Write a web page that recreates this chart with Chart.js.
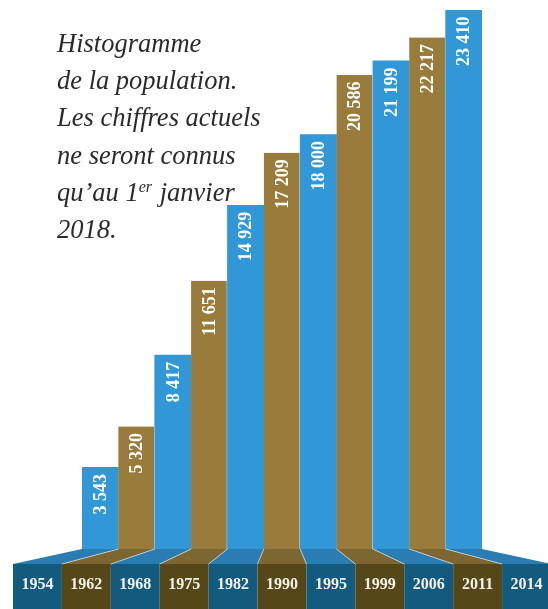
<!DOCTYPE html>
<html lang="fr">
<head>
<meta charset="utf-8">
<title>Histogramme de la population</title>
<script src="https://cdn.jsdelivr.net/npm/chart.js@4/dist/chart.umd.min.js"></script>
<style>
  html, body { margin: 0; padding: 0; background: #fff; }
  canvas { display: block; }
</style>
</head>
<body>
<canvas id="popChart" width="548" height="609"></canvas>
<script>
  // années des recensements
  const years = ['1954', '1962', '1968', '1975', '1982', '1990', '1995', '1999', '2006', '2011', '2014'];
  // population à chaque recensement
  const population = [3543, 5320, 8417, 11651, 14929, 17209, 18000, 20586, 21199, 22217, 23410];
  // texte du titre, ligne par ligne
  const titleLines = ['Histogramme', 'de la population.', 'Les chiffres actuels', 'ne seront connus', 'qu\u2019au 1|er| janvier', '2018.'];

  const barColors = ['#3197d6', '#997b3b'];
  const floorColors = ['#2a7db3', '#7c6631'];
  const boxColors = ['#135a7f', '#564719'];

  function fmt(n) {
    return String(n).replace(/\B(?=(\d{3})+(?!\d))/g, ' ');
  }

  // sol en perspective, étiquettes des années, valeurs verticales, titre
  const decor = {
    id: 'decor',
    afterDatasetsDraw(chart) {
      const ctx = chart.ctx;
      const area = chart.chartArea;
      const bars = chart.getDatasetMeta(0).data;
      const floorTop = area.bottom;
      const floorBottom = area.bottom + 15;
      const boxBottom = chart.height;
      const vx = (area.left + area.right) / 2;
      const spread = 1.345;
      const proj = x => vx + (x - vx) * spread;

      ctx.save();
      bars.forEach((bar, i) => {
        const l = bar.x - bar.width / 2;
        const r = bar.x + bar.width / 2;
        const pl = proj(l), pr = proj(r);
        // sol
        ctx.fillStyle = floorColors[i % 2];
        ctx.beginPath();
        ctx.moveTo(l, floorTop);
        ctx.lineTo(r, floorTop);
        ctx.lineTo(pr, floorBottom);
        ctx.lineTo(pl, floorBottom);
        ctx.closePath();
        ctx.fill();
        // boîte de l'année
        ctx.fillStyle = boxColors[i % 2];
        ctx.fillRect(pl, floorBottom, pr - pl, boxBottom - floorBottom);
      });
      // lignes claires entre les pans du sol
      ctx.strokeStyle = 'rgba(255,255,255,0.55)';
      ctx.lineWidth = 1;
      bars.forEach((bar, i) => {
        if (i === 0) return;
        const l = bar.x - bar.width / 2;
        ctx.beginPath();
        ctx.moveTo(l, floorTop);
        ctx.lineTo(proj(l), floorBottom);
        ctx.stroke();
      });

      // années
      ctx.fillStyle = '#f4f1e8';
      ctx.font = 'bold 16px "Liberation Serif"';
      ctx.textAlign = 'center';
      ctx.textBaseline = 'alphabetic';
      bars.forEach((bar, i) => {
        ctx.fillText(years[i], proj(bar.x), floorBottom + 25);
      });

      // valeurs verticales
      ctx.fillStyle = '#ffffff';
      ctx.font = 'bold 18px "Liberation Serif"';
      ctx.textAlign = 'right';
      ctx.textBaseline = 'middle';
      bars.forEach((bar, i) => {
        ctx.save();
        ctx.translate(bar.x + 1, bar.y);
        ctx.rotate(-Math.PI / 2);
        ctx.fillText(fmt(population[i]), -6.5, 0);
        ctx.restore();
      });
      ctx.restore();
    },
    afterDraw(chart) {
      const ctx = chart.ctx;
      ctx.save();
      ctx.fillStyle = '#2a2a2a';
      ctx.textAlign = 'left';
      ctx.textBaseline = 'alphabetic';
      const big = 'italic 26.5px "Liberation Serif"';
      const small = 'italic 16px "Liberation Serif"';
      titleLines.forEach((line, k) => {
        const y = 52 + k * 37.2;
        let x = 57;
        line.split('|').forEach((part, j) => {
          const sup = j % 2 === 1;
          ctx.font = sup ? small : big;
          ctx.fillText(part, x, sup ? y - 9 : y);
          x += ctx.measureText(part).width + (sup ? 1 : 0);
        });
      });
      ctx.restore();
    }
  };

  const ctx1 = document.getElementById('popChart').getContext('2d');

  const popChart = new Chart(ctx1, {
    type: 'bar',
    data: {
      labels: years,
      datasets: [{
        label: 'Population',
        data: population,
        backgroundColor: c => barColors[c.dataIndex % 2],
        borderColor: '#ffffff',
        borderWidth: c => ({ top: 0, bottom: 0, left: 0, right: c.dataIndex % 2 ? 1 : 0 }),
        borderSkipped: false,
        categoryPercentage: 1,
        barPercentage: 1
      }]
    },
    options: {
      responsive: false,
      animation: false,
      layout: { padding: { left: 82, right: 66, top: 10, bottom: 60 } },
      plugins: {
        legend: { display: false },
        tooltip: { enabled: false },
        title: { display: false }
      },
      scales: {
        x: { display: false },
        y: { display: false, min: 0, max: Math.max(...population) }
      }
    },
    plugins: [decor]
  });
</script>
</body>
</html>
